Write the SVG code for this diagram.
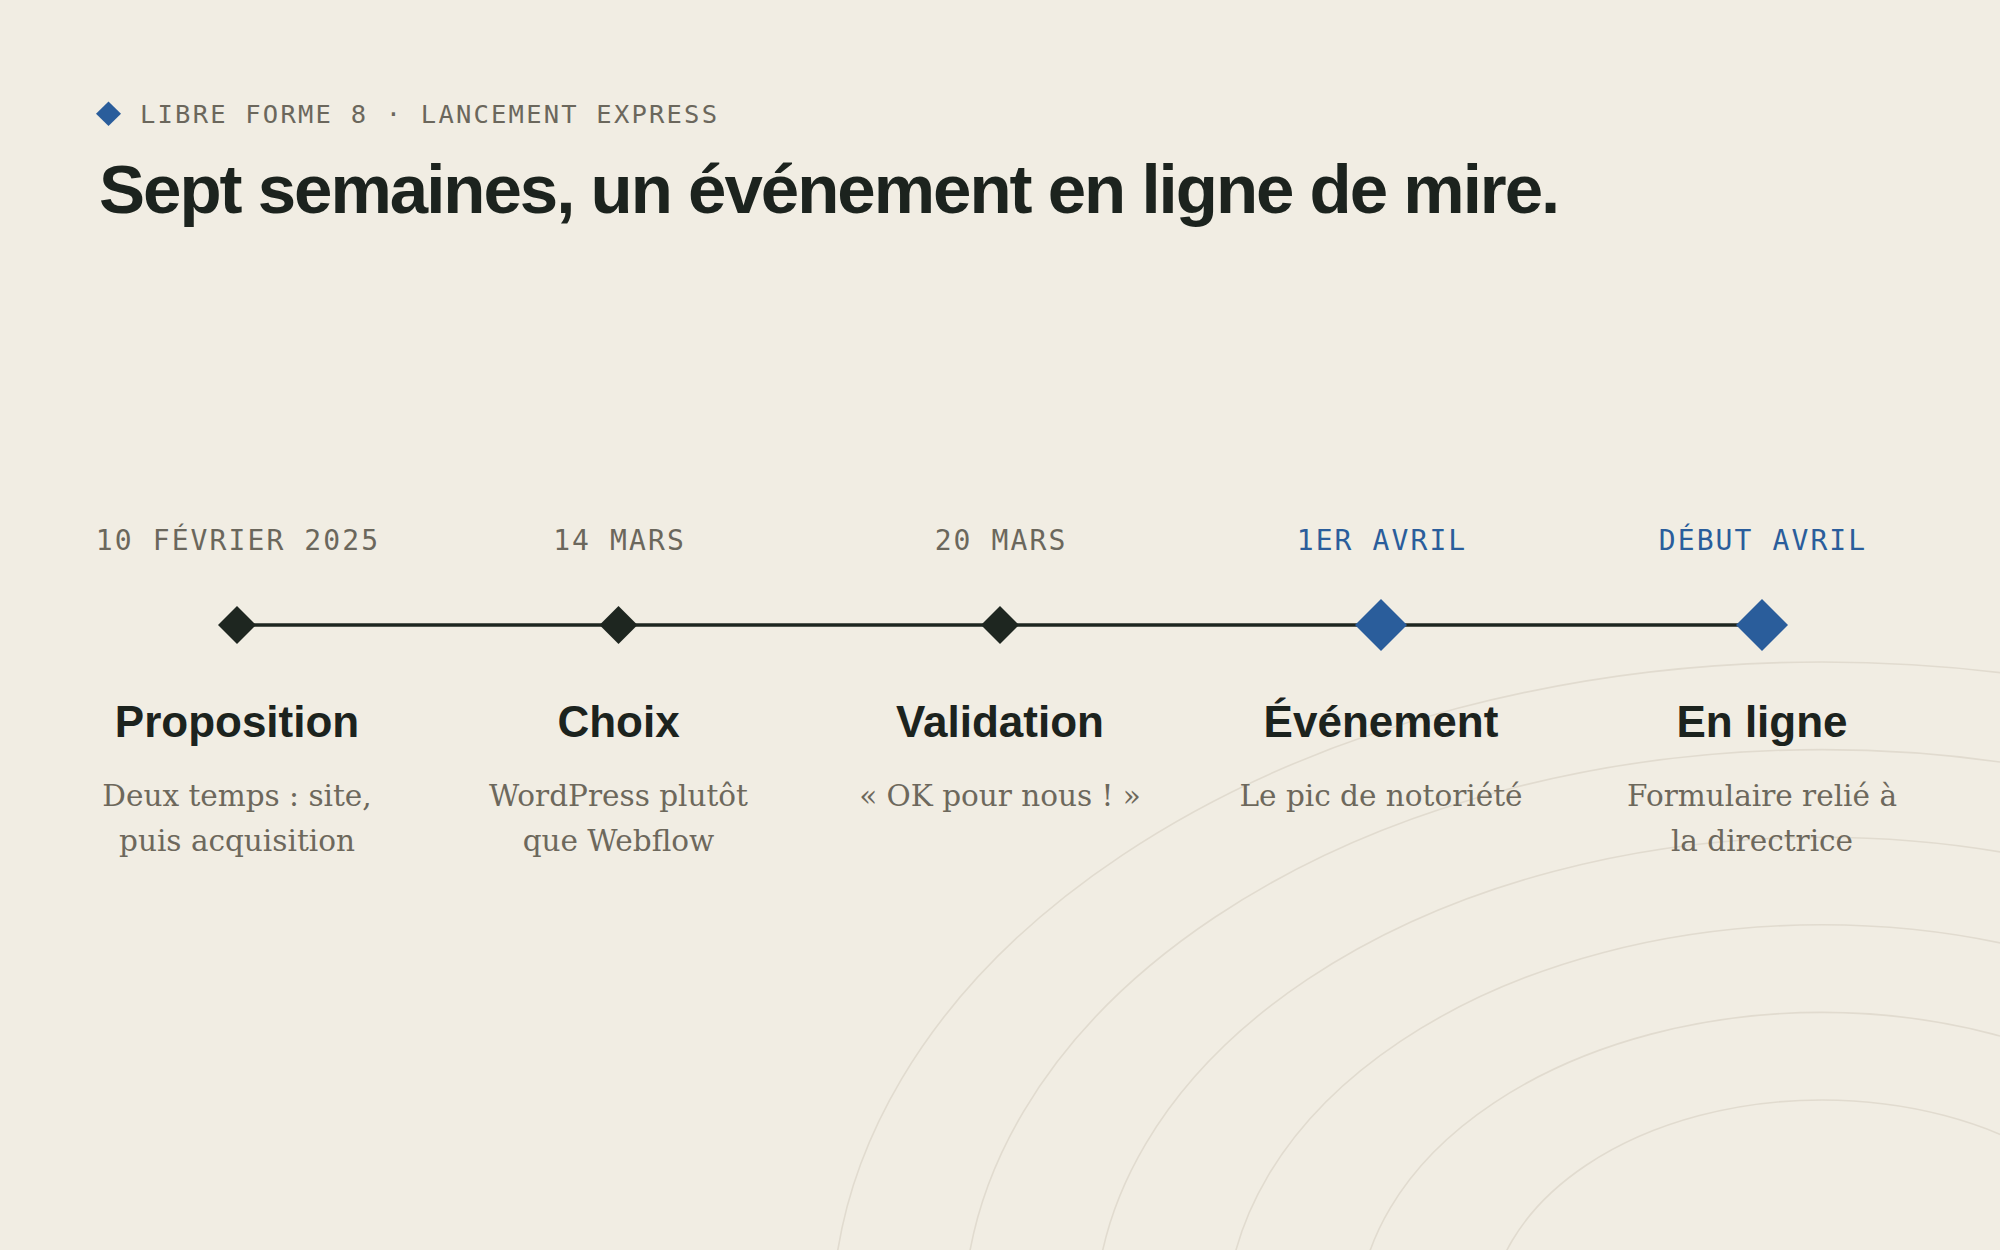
<svg xmlns="http://www.w3.org/2000/svg" width="2000" height="1250" viewBox="0 0 2000 1250">
  <defs>
    <style>
      .bg { fill: #f1ede3; }
      .ring { fill: none; stroke: #e1dbcf; stroke-width: 1.6; }
      .kicker { font-family: "DejaVu Sans Mono", "Liberation Mono", monospace; font-size: 25.5px; letter-spacing: 2.2px; fill: #6b675c; }
      .headline { font-family: "Liberation Sans", Arial, sans-serif; font-weight: 700; font-size: 69px; letter-spacing: -2px; fill: #1c231e; }
      .date { font-family: "DejaVu Sans Mono", "Liberation Mono", monospace; font-size: 28px; letter-spacing: 2.1px; fill: #6b675c; text-anchor: middle; }
      .date.hl { fill: #2a5d9b; }
      .title { font-family: "Liberation Sans", Arial, sans-serif; font-weight: 700; font-size: 44px; fill: #1c231e; text-anchor: middle; }
      .desc { font-family: "DejaVu Serif", "Liberation Serif", serif; font-size: 29.5px; fill: #6d685c; text-anchor: middle; }
      .dk { fill: #1e2620; }
      .bl { fill: #2a5d9b; }
      .axis { stroke: #1e2620; stroke-width: 3.5; fill: none; }
    </style>
  </defs>

  <rect class="bg" x="0" y="0" width="2000" height="1250"/>

  <g id="decor-rings">
    <ellipse class="ring" cx="1822" cy="1322" rx="333" ry="222"/>
    <ellipse class="ring" cx="1822" cy="1322" rx="464.4" ry="309.6"/>
    <ellipse class="ring" cx="1822" cy="1322" rx="595.8" ry="397.2"/>
    <ellipse class="ring" cx="1822" cy="1322" rx="727.2" ry="484.8"/>
    <ellipse class="ring" cx="1822" cy="1322" rx="858.6" ry="572.4"/>
    <ellipse class="ring" cx="1822" cy="1322" rx="990" ry="660"/>
  </g>

  <g id="header">
    <polygon class="bl" points="108.5,101.5 121,113.8 108.5,126 96,113.8"/>
    <text class="kicker" x="140" y="122.5">LIBRE FORME 8 · LANCEMENT EXPRESS</text>
    <text class="headline" x="99" y="213">Sept semaines, un événement en ligne de mire.</text>
  </g>

  <g id="connectors">
    <line class="axis" x1="237" y1="625" x2="1762" y2="625"/>
  </g>

  <g id="node-proposition">
    <text class="date" x="238" y="550">10 FÉVRIER 2025</text>
    <polygon class="dk" points="237,606 256,625 237,644 218,625"/>
    <text class="title" x="237" y="737">Proposition</text>
    <text class="desc" x="237" y="806">Deux temps : site,</text>
    <text class="desc" x="237" y="851">puis acquisition</text>
  </g>

  <g id="node-choix">
    <text class="date" x="619.5" y="550">14 MARS</text>
    <polygon class="dk" points="618.5,606 637.5,625 618.5,644 599.5,625"/>
    <text class="title" x="618.5" y="737">Choix</text>
    <text class="desc" x="618.5" y="806">WordPress plutôt</text>
    <text class="desc" x="618.5" y="851">que Webflow</text>
  </g>

  <g id="node-validation">
    <text class="date" x="1001" y="550">20 MARS</text>
    <polygon class="dk" points="1000,606 1019,625 1000,644 981,625"/>
    <text class="title" x="1000" y="737">Validation</text>
    <text class="desc" x="1000" y="806">« OK pour nous ! »</text>
  </g>

  <g id="node-evenement">
    <text class="date hl" x="1382" y="550">1ER AVRIL</text>
    <polygon class="bl" points="1381,599 1407,625 1381,651 1355,625"/>
    <text class="title" x="1381" y="737">Événement</text>
    <text class="desc" x="1381" y="806">Le pic de notoriété</text>
  </g>

  <g id="node-en-ligne">
    <text class="date hl" x="1763" y="550">DÉBUT AVRIL</text>
    <polygon class="bl" points="1762,599 1788,625 1762,651 1736,625"/>
    <text class="title" x="1762" y="737">En ligne</text>
    <text class="desc" x="1762" y="806">Formulaire relié à</text>
    <text class="desc" x="1762" y="851">la directrice</text>
  </g>
</svg>
